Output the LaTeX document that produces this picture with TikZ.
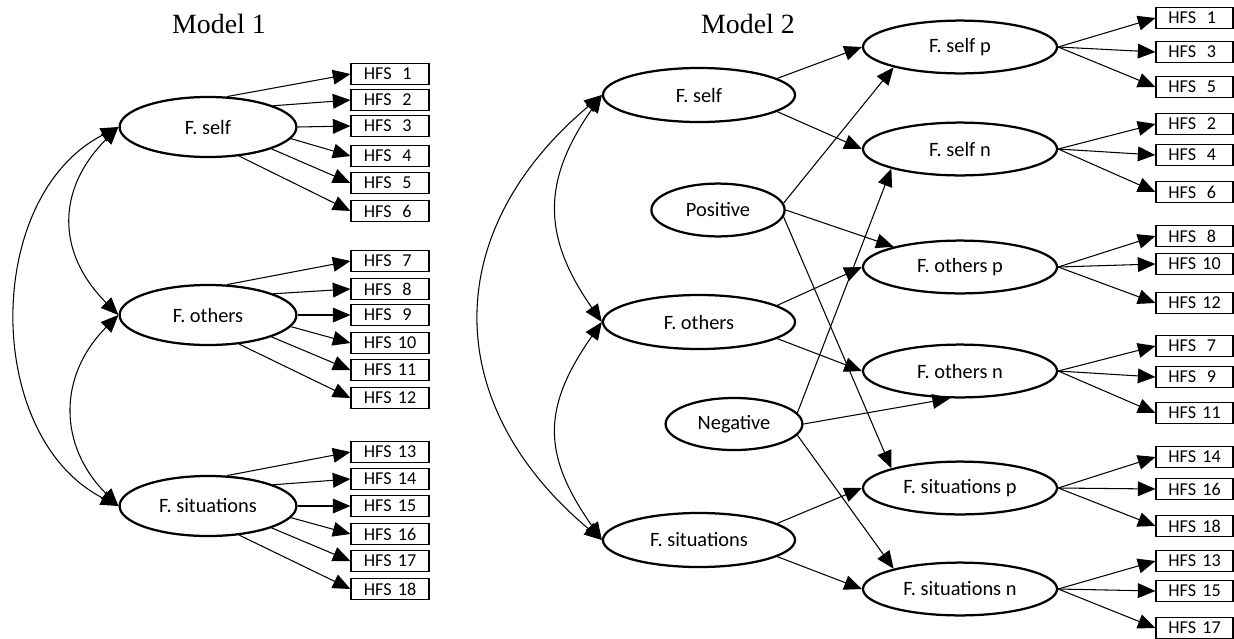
\documentclass[tikz,border=0pt]{standalone}
\usepackage{fontspec}
\setmainfont{Carlito}
\newfontfamily\titlefont{Liberation Serif}
\usetikzlibrary{shapes.geometric,arrows.meta}

\newcommand{\hfs}[1]{HFS\hspace{0.35em}\makebox[1em]{#1}}

\tikzset{
  latent/.style={draw, ellipse, line width=1.6pt, inner sep=0pt, font=\fontsize{14.5}{16}\selectfont},
  fac1/.style={latent, minimum width=4.42cm, minimum height=1.5cm},
  fac2/.style={latent, minimum width=4.8cm, minimum height=1.35cm},
  sub2/.style={latent, minimum width=4.85cm, minimum height=1.32cm},
  item/.style={draw, rectangle, line width=0.8pt, inner sep=0pt, minimum width=1.95cm, minimum height=0.525cm, font=\fontsize{12.9}{14}\selectfont},
  load/.style={-{Triangle[length=12.5pt,width=10.5pt]}, line width=0.75pt},
  cov/.style={{Triangle[length=12.5pt,width=10.5pt]}-{Triangle[length=12.5pt,width=10.5pt]}, line width=0.75pt},
  heading/.style={anchor=base, font=\titlefont\fontsize{19.8}{22}\selectfont}
}

\begin{document}
\begin{tikzpicture}[x=0.025cm, y=-0.025cm]
    \useasboundingbox (0,0) rectangle (1234,638);

    % Model 1
    \node[heading] (title1) at (219,33) {Model 1};
    \node[fac1] (fself) at (208,127) {F. self};
    \node[fac1] (fothers) at (208,315) {F. others};
    \node[fac1] (fsit) at (208,506) {F. situations};

    \foreach \i/\y in {1/74,2/100,3/126,4/156,5/183,6/211,7/261,8/289,9/315,10/343,11/370,12/398,13/452,14/479,15/506,16/534,17/561,18/589}
        \node[item] (a\i) at (390,\y) {\hfs{\i}};

    \foreach \f/\s in {fself/0,fothers/6,fsit/12}
        \foreach \k/\a in {1/58,2/18,3/0,4/-8,5/-19,6/-43}
        {
            \pgfmathtruncatemacro\n{\s+\k}
            \draw[load] (\f.\a) -- (a\n.west);
        }

    \draw[cov] (fself.west) to[out=225,in=135,looseness=1.2] (fothers.west);
    \draw[cov] (fothers.west) to[out=225,in=135,looseness=1.15] (fsit.west);
    \draw[cov] (fself.west) to[out=207,in=153,looseness=1.03] (fsit.west);

    % Model 2
    \node[heading] (title2) at (748,33) {Model 2};
    \node[fac2] (gself) at (699,95) {F. self};
    \node[fac2] (gothers) at (699,322) {F. others};
    \node[fac2] (gsit) at (699,540) {F. situations};
    \node[latent, minimum width=3.33cm, minimum height=1.32cm] (pos) at (718,210) {Positive};
    \node[latent, minimum width=3.42cm, minimum height=1.3cm] (neg) at (734,424) {Negative};

    \node[sub2] (selfp) at (960,47) {F. self p};
    \node[sub2] (selfn) at (960,149) {F. self n};
    \node[sub2] (othp) at (960,267) {F. others p};
    \node[sub2] (othn) at (960,371) {F. others n};
    \node[sub2] (sitp) at (960,488) {F. situations p};
    \node[sub2] (sitn) at (960,589) {F. situations n};

    \foreach \i/\y in {1/18,3/52,5/87,2/124,4/155,6/192,8/236,10/264,12/303,7/346,9/377,11/413,14/457,16/489,18/526,13/561,15/591,17/628}
        \node[item, minimum width=1.925cm] (b\i) at (1194.5,\y) {\hfs{\i}};

    \foreach \f/\i in {selfp/1,selfp/3,selfp/5,selfn/2,selfn/4,selfn/6,othp/8,othp/10,othp/12,othn/7,othn/9,othn/11,sitp/14,sitp/16,sitp/18,sitn/13,sitn/15,sitn/17}
        \draw[load] (\f.east) -- (b\i.west);

    \draw[load] (gself.12) -- (selfp.west);
    \draw[load] (gself.-12) -- (selfn.west);
    \draw[load] (gothers.12) -- (othp.west);
    \draw[load] (gothers.-12) -- (othn.west);
    \draw[load] (gsit.12) -- (sitp.west);
    \draw[load] (gsit.-12) -- (sitn.west);

    \draw[load] (pos.6) -- (selfp.197);
    \draw[load] (pos.east) -- (othp.163);
    \draw[load] (pos.-6) -- (sitp.164);
    \draw[load] (neg.10) -- (selfn.196);
    \draw[load] (neg.east) -- (othn.250);
    \draw[load] (neg.-10) -- (sitn.163);

    \draw[cov] (gself.west) to[out=235,in=125,looseness=1.18] (gothers.west);
    \draw[cov] (gothers.west) to[out=235,in=125,looseness=1.23] (gsit.west);
    \draw[cov] (gself.west) to[out=220,in=140,looseness=1.22] (gsit.west);
\end{tikzpicture}
\end{document}
